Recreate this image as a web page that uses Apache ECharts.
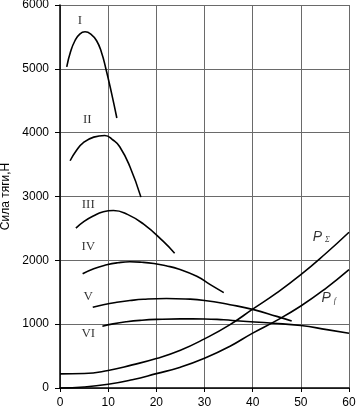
<!DOCTYPE html>
<html>
<head>
<meta charset="utf-8">
<script src="https://cdn.jsdelivr.net/npm/echarts@6/dist/echarts.min.js"></script>
<style>
html,body{margin:0;padding:0;background:#fff;}
#chart{width:357px;height:412px;}
</style>
</head>
<body>
<div id="chart"></div>
<script>
// Speed (x) and traction force (y, N)
var gear1 = [[1.4,5030],[2.2,5270],[3.1,5440],[4.1,5545],[5.2,5580],[6.4,5545],[7.6,5440],[8.6,5260],[9.5,5010],[10.7,4620],[11.8,4230]];
var gear2 = [[2.1,3560],[3.4,3720],[4.8,3840],[7.0,3930],[9.3,3955],[11.0,3885],[12.4,3780],[14.5,3470],[16.8,2990]];
var gear3 = [[3.3,2505],[5.0,2610],[6.9,2695],[9.0,2760],[11.1,2780],[14.0,2720],[17.3,2570],[21.4,2300],[23.8,2110]];
var gear4 = [[4.7,1790],[7.0,1870],[9.7,1930],[12.0,1962],[14.5,1978],[17.0,1970],[19.5,1950],[22.0,1915],[24.6,1865],[28.4,1750],[31.2,1620],[34.0,1495]];
var gear5 = [[6.8,1265],[9.0,1305],[11.8,1343],[14.5,1370],[17.3,1390],[22.1,1402],[26.0,1395],[30.0,1372],[35.3,1305],[40.2,1228],[45.0,1122],[48.1,1050]];
var gear6 = [[8.8,967],[11.0,1005],[13.8,1038],[17.0,1062],[20.1,1075],[25.0,1083],[30.0,1082],[34.0,1068],[37.3,1050],[44.3,1015],[50.0,978],[55.4,915],[60,858]];
var pSum = [[0,222],[5,227],[10,275],[15,362],[20,462],[25,592],[30,770],[35.3,993],[40,1235],[45,1490],[50,1775],[55,2095],[60,2440]];
var pF = [[0,0],[5,15],[10,58],[15,130],[20,225],[25,326],[30,465],[35.3,654],[40,860],[45,1060],[50,1285],[55,1550],[60,1854]];

var gearNames = ['I','II','III','IV','V','VI'];
var gearLabelPos = [[4.15,5754],[5.66,4211],[5.87,2871],[5.87,2218],[5.87,1436],[5.87,853]];
var resistNames = ['Σ','f'];
var resistLabelPos = [[54.25,2362],[55.8,1408]];

var xTicks = [0,10,20,30,40,50,60];
var yTicks = [0,1000,2000,3000,4000,5000,6000];

var chart = echarts.init(document.getElementById('chart'), null, {renderer:'canvas'});

function curve(name, data){
  return {
    name: name, type:'line', data:data, smooth:0.5,
    showSymbol:false, symbol:'none',
    lineStyle:{color:'#000', width:1.6}, silent:true, z:3
  };
}

var series = [
  curve('I', gear1), curve('II', gear2), curve('III', gear3),
  curve('IV', gear4), curve('V', gear5), curve('VI', gear6),
  curve('PΣ', pSum), curve('Pf', pF),
  {
    type:'scatter', symbolSize:0, silent:true, z:5,
    data: gearLabelPos.map(function(p,i){ return {value:p, name:gearNames[i]}; }),
    label:{show:true, position:'inside', formatter:'{b}', color:'#000',
      fontFamily:'Liberation Serif', fontSize:13}
  },
  {
    type:'scatter', symbolSize:0, silent:true, z:5,
    data: resistLabelPos.map(function(p,i){ return {value:p, name:resistNames[i]}; }),
    label:{show:true, position:'inside', color:'#000',
      formatter:function(p){ return '{p|P}{s|' + p.name + '}'; },
      rich:{
        p:{fontFamily:'Liberation Sans', fontStyle:'italic', fontSize:14, color:'#000', padding:[0,3,0,0]},
        s:{fontFamily:'Liberation Serif', fontStyle:'italic', fontSize:8, color:'#000', padding:[6,0,0,0]}
      }
    }
  }
];

chart.setOption({
  animation:false,
  backgroundColor:'#fff',
  grid:{left:60, right:8, top:5, bottom:24, containLabel:false, outerBoundsMode:'none'},
  xAxis:{
    type:'value', min:xTicks[0], max:xTicks[xTicks.length-1], interval:10,
    axisLine:{show:true, onZero:false, lineStyle:{color:'#000', width:1.5}},
    axisTick:{show:true, length:4, lineStyle:{color:'#000'}},
    axisLabel:{color:'#000', fontSize:12, fontFamily:'Liberation Sans', margin:9,
      formatter:function(v){ return String(v); }},
    splitLine:{show:true, lineStyle:{color:'#6a6a6a', width:1}}
  },
  yAxis:{
    type:'value', min:yTicks[0], max:yTicks[yTicks.length-1], interval:1000,
    name:'Сила тяги,Н', nameLocation:'middle', nameGap:46,
    nameTextStyle:{color:'#000', fontSize:12, fontFamily:'Liberation Sans'},
    axisLine:{show:true, onZero:false, lineStyle:{color:'#000', width:1.5}},
    axisTick:{show:true, length:5, lineStyle:{color:'#000'}},
    axisLabel:{color:'#000', fontSize:12, fontFamily:'Liberation Sans', margin:11,
      formatter:function(v){ return String(v); }},
    splitLine:{show:true, lineStyle:{color:'#6a6a6a', width:1}}
  },
  series: series
});
</script>
</body>
</html>
